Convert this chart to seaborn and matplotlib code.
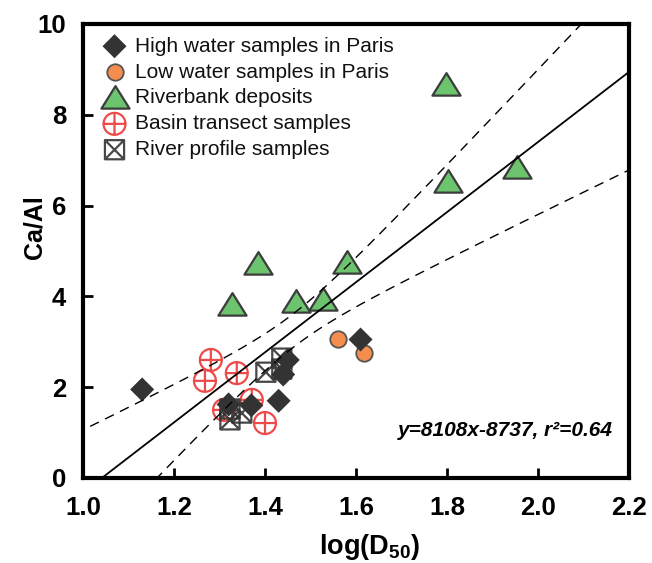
import numpy as np
import pandas as pd
import matplotlib
matplotlib.use("Agg")
import matplotlib.pyplot as plt
import seaborn as sns
from matplotlib.path import Path

# log(D50) and Ca/Al for each sample group
high_x = [1.13, 1.32, 1.37, 1.43, 1.44, 1.45, 1.61]
high_y = [1.95, 1.62, 1.60, 1.70, 2.28, 2.60, 3.05]
low_x = [1.56, 1.617]
low_y = [3.07, 2.76]
bank_x = [1.327, 1.385, 1.468, 1.527, 1.580, 1.798, 1.802, 1.954]
bank_y = [3.82, 4.71, 3.88, 3.92, 4.74, 8.66, 6.52, 6.83]
basin_x = [1.268, 1.281, 1.31, 1.338, 1.371, 1.40]
basin_y = [2.14, 2.60, 1.50, 2.31, 1.72, 1.21]
profile_x = [1.323, 1.323, 1.349, 1.402, 1.437, 1.437]
profile_y = [1.52, 1.28, 1.43, 2.33, 2.64, 2.40]

group_labels = ["High water samples in Paris", "Low water samples in Paris",
                "Riverbank deposits", "Basin transect samples",
                "River profile samples"]

# regression line and its confidence envelope
fit_slope = 7.72
fit_intercept = -8.04
band_center = 1.461
band_a = 0.136
band_b = 8.3

x_ticks = [1.0, 1.2, 1.4, 1.6, 1.8, 2.0, 2.2]
y_ticks = [0, 2, 4, 6, 8, 10]
equation_text = "y=8108x-8737, r\u00b2=0.64"

sns.set_theme(style="white")
plt.rcParams["font.family"] = ["Liberation Sans", "DejaVu Sans"]
plt.rcParams["mathtext.fontset"] = "custom"
plt.rcParams["mathtext.rm"] = "Liberation Sans"
plt.rcParams["mathtext.bf"] = "Liberation Sans:bold"

# custom marker shapes
M, L, C = Path.MOVETO, Path.LINETO, Path.CLOSEPOLY
circle_cross = Path.make_compound_path(
    Path.unit_circle(),
    Path([(-1, 0), (1, 0)], [M, L]),
    Path([(0, -1), (0, 1)], [M, L]),
)
boxed_x = Path(
    [(-1, -1), (1, -1), (1, 1), (-1, 1), (-1, -1),
     (-1, -1), (1, 1), (-1, 1), (1, -1)],
    [M, L, L, L, C, M, L, M, L],
)
triangle = Path([(-1, -0.72), (1, -0.72), (0, 0.88), (-1, -0.72)],
                [M, L, L, C])

fig = plt.figure(figsize=(6.52, 5.63), dpi=100)
ax = fig.add_axes([0.1273, 0.151, 0.8374, 0.8064])

sns.scatterplot(x=high_x, y=high_y, ax=ax, marker="D", s=150,
                color="#333333", edgecolor="none", label=group_labels[0],
                zorder=4)
sns.scatterplot(x=low_x, y=low_y, ax=ax, marker="o", s=140,
                color="#F58D4E", edgecolor="#555555", linewidth=1.3,
                label=group_labels[1], zorder=3)
sns.scatterplot(x=bank_x, y=bank_y, ax=ax, marker=triangle, s=410,
                color="#6CC46F", edgecolor="#3C3C3C", linewidth=1.6,
                label=group_labels[2], zorder=3)
sns.scatterplot(x=basin_x, y=basin_y, ax=ax, marker=circle_cross, s=250,
                facecolor="none", edgecolor="#EE4A4A", linewidth=1.6,
                label=group_labels[3], zorder=3)
sns.scatterplot(x=profile_x, y=profile_y, ax=ax, marker=boxed_x, s=190,
                facecolor="none", edgecolor="#333333", linewidth=1.6,
                alpha=0.9, label=group_labels[4], zorder=5)

xs = np.linspace(0.95, 2.25, 300)
fit = fit_slope * xs + fit_intercept
half = np.sqrt(band_a + band_b * (xs - band_center) ** 2)
ax.plot(xs, fit, color="black", lw=1.3, zorder=6)
ax.plot(xs, fit + half, color="black", lw=1.0, ls=(0, (7, 5)), zorder=6)
ax.plot(xs, fit - half, color="black", lw=1.0, ls=(0, (7, 5)), zorder=6)

ax.set_xlim(1.0, 2.2)
ax.set_ylim(0, 10)
ax.set_xticks(x_ticks)
ax.set_xticklabels([f"{v:.1f}" for v in x_ticks])
ax.set_yticks(y_ticks)
ax.set_yticklabels([str(v) for v in y_ticks])

for side in ["top", "right", "bottom", "left"]:
    ax.spines[side].set_visible(True)
    ax.spines[side].set_color("black")
    ax.spines[side].set_linewidth(3)

ax.tick_params(axis="both", which="both", direction="in", length=7,
               width=2, color="black", labelsize=18.5, labelcolor="black")
ax.tick_params(axis="x", pad=13, bottom=True, top=False)
ax.tick_params(axis="y", pad=12, left=True, right=False)
for lab in ax.get_xticklabels() + ax.get_yticklabels():
    lab.set_fontweight("bold")

ax.set_ylabel("Ca/Al", fontsize=18, fontweight="bold", color="black")
ax.yaxis.set_label_coords(-0.066, 0.553)
ax.set_xlabel(r"log(D$_{\mathbf{50}}$)", fontsize=19.5, fontweight="bold",
              color="black", va="top")
ax.xaxis.set_label_coords(0.524, -0.118)

ax.text(0.971, 0.1035, equation_text, transform=ax.transAxes, ha="right",
        va="center", fontsize=15, fontweight="bold", style="italic",
        color="black")

leg = ax.legend(loc="upper left", bbox_to_anchor=(0.031, 0.972),
                frameon=False, fontsize=15, borderpad=0, borderaxespad=0,
                handlelength=1.4, handletextpad=0.3, labelspacing=0.33,
                scatterpoints=1)
for t in leg.get_texts():
    t.set_color("#111111")

fig.savefig("out.png", dpi=100)
